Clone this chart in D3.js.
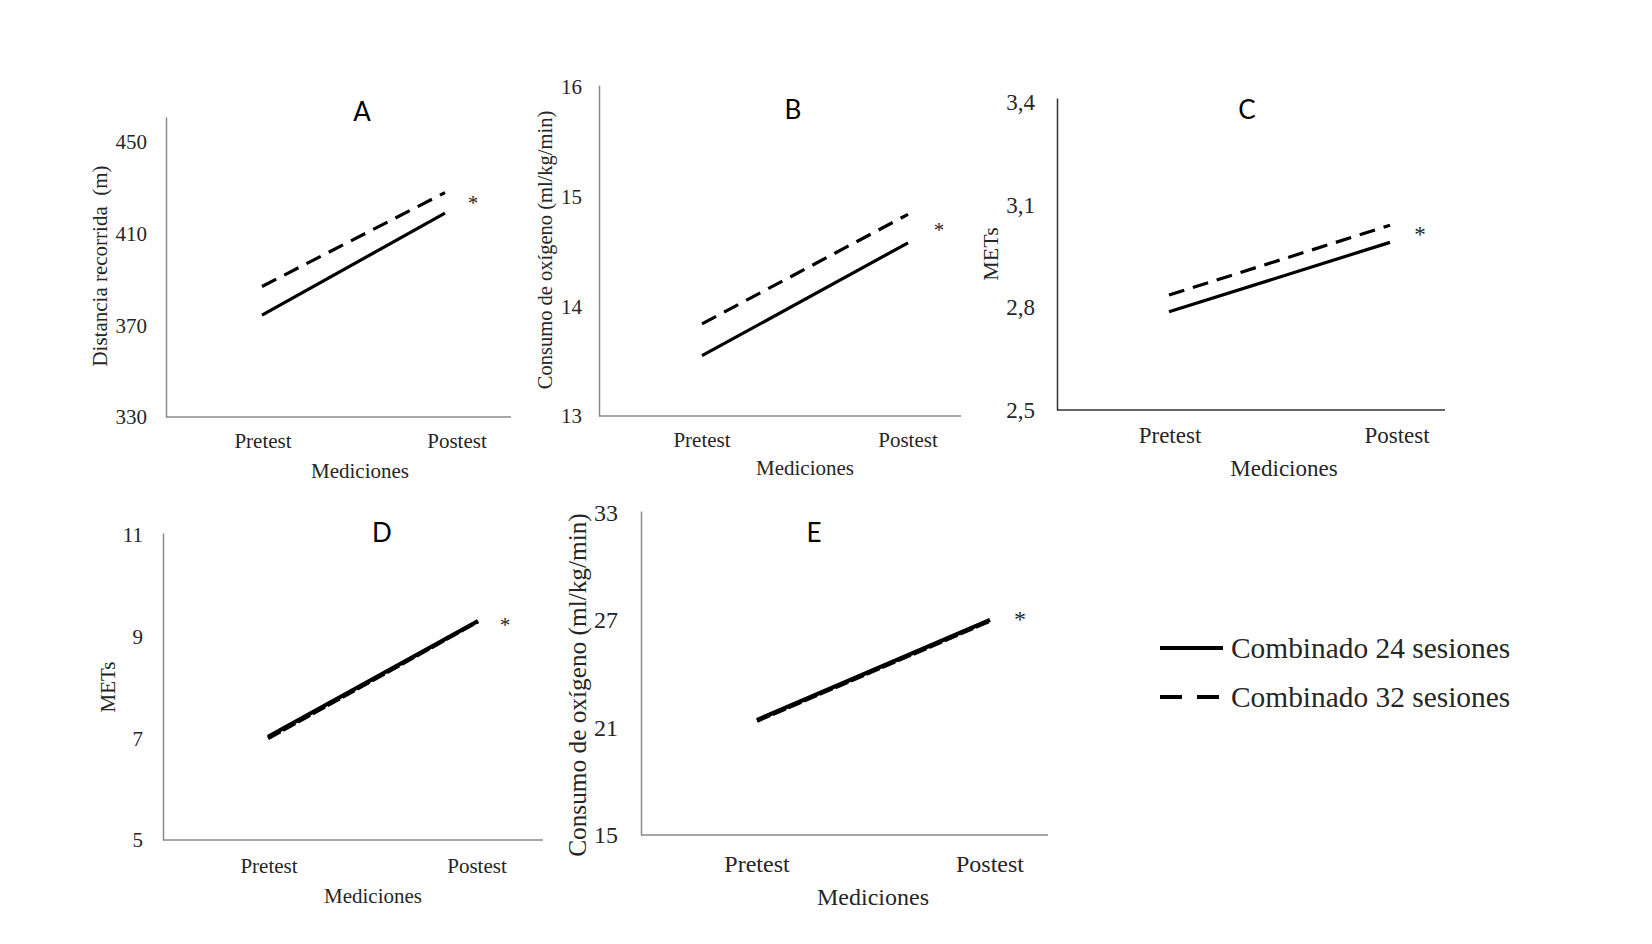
<!DOCTYPE html>
<html>
<head>
<meta charset="utf-8">
<script src="https://cdn.jsdelivr.net/npm/d3@7"></script>
<style>
  html, body { margin: 0; padding: 0; background: #fff; }
  svg text { font-family: "Liberation Serif", "Times New Roman", serif; fill: #262626; }
  .title { font-family: Lato, "Open Sans", sans-serif !important; fill: #000 !important; }
</style>
</head>
<body>
<svg id="chart" width="1652" height="944"></svg>
<script>
// ---------- data ----------
const categories = ["Pretest", "Postest"];
const panelTitles = ["A", "B", "C", "D", "E"];
const seriesNames = ["Combinado 24 sesiones", "Combinado 32 sesiones"];
const xAxisTitle = "Mediciones";
const yAxisTitles = [
  "Distancia recorrida  (m)",
  "Consumo de oxígeno (ml/kg/min)",
  "METs",
  "METs",
  "Consumo de oxígeno (ml/kg/min)"
];
// series values (Pretest, Postest)
const distA24 = [374.5, 419];
const distA32 = [387, 428];
const vo2B24 = [13.55, 14.58];
const vo2B32 = [13.84, 14.84];
const metsC24 = [2.787, 2.99];
const metsC32 = [2.836, 3.04];
const metsD24 = [7.03, 9.31];
const metsD32 = [7.0, 9.30];
const vo2E24 = [21.43, 27.02];
const vo2E32 = [21.38, 26.96];
// tick values
const ticksA = [330, 370, 410, 450];
const ticksB = [13, 14, 15, 16];
const ticksC = [2.5, 2.8, 3.1, 3.4];
const ticksD = [5, 7, 9, 11];
const ticksE = [15, 21, 27, 33];
const significance = ["*", "*", "*", "*", "*"];

// ---------- layout (positions/styles only) ----------
const layout = [
  {axX:166, top:117, bot:417, right:511, yMax:461,   px:[262,445], lx:[263,457], lbY:448, mx:360, mY:478, ast:[473,210], tt:[362,121], yl:[100,266], fs:21, ylfs:21, pad:19, axCol:"#8a8a8a", sw:3.2},
  {axX:599, top:85,  bot:416, right:961, yMax:16.02, px:[702,908], lx:[702,908], lbY:447, mx:805, mY:475, ast:[939,237], tt:[793,119], yl:[545,250], fs:21, ylfs:20.5, pad:17, axCol:"#8a8a8a", sw:3.2},
  {axX:1057,top:98,  bot:410, right:1445,yMax:3.412, px:[1169,1390],lx:[1170,1397],lbY:443,mx:1284,mY:476, ast:[1420,242],tt:[1247,119],yl:[990,254], fs:23, ylfs:22, pad:22, axCol:"#333", sw:3.2},
  {axX:163, top:533, bot:840, right:543, yMax:11.04, px:[268,478], lx:[269,477], lbY:873, mx:373, mY:903, ast:[505,632], tt:[382,542], yl:[108,687], fs:21, ylfs:21, pad:20, axCol:"#8a8a8a", sw:4},
  {axX:641, top:511, bot:835, right:1048,yMax:33.1,  px:[757,990], lx:[757,990], lbY:872, mx:873, mY:905, ast:[1020,627],tt:[814,542], yl:[577,685], fs:24, ylfs:25.3, pad:23, axCol:"#8a8a8a", sw:4}
];

const panels = [
  {s24: distA24, s32: distA32, ticks: ticksA, yMin: 330, fmt: d3.format("d")},
  {s24: vo2B24,  s32: vo2B32,  ticks: ticksB, yMin: 13,  fmt: d3.format("d")},
  {s24: metsC24, s32: metsC32, ticks: ticksC, yMin: 2.5, fmt: d => d3.format(".1f")(d).replace(".", ",")},
  {s24: metsD24, s32: metsD32, ticks: ticksD, yMin: 5,   fmt: d3.format("d")},
  {s24: vo2E24,  s32: vo2E32,  ticks: ticksE, yMin: 15,  fmt: d3.format("d")}
];

const svg = d3.select("#chart");

panels.forEach((p, i) => {
  const L = layout[i];
  const g = svg.append("g");
  const y = d3.scaleLinear().domain([p.yMin, L.yMax]).range([L.bot, L.top]);
  const x = d3.scalePoint().domain(categories).range(L.px);
  const xl = d3.scalePoint().domain(categories).range(L.lx);

  // y axis
  const ya = g.append("g").attr("transform", `translate(${L.axX},0)`)
    .call(d3.axisLeft(y).tickValues(p.ticks).tickFormat(p.fmt).tickSize(0).tickPadding(L.pad));
  ya.select(".domain").attr("stroke", L.axCol).attr("stroke-width", 1.5);
  ya.selectAll("text").style("font-size", L.fs + "px")
    .style("font-family", '"Liberation Serif", serif').attr("fill", "#262626");

  // x axis line
  g.append("line").attr("x1", L.axX).attr("x2", L.right)
    .attr("y1", L.bot).attr("y2", L.bot)
    .attr("stroke", L.axCol).attr("stroke-width", 1.5);

  // category labels
  g.selectAll(".cat").data(categories).join("text")
    .attr("x", d => xl(d)).attr("y", L.lbY)
    .attr("text-anchor", "middle").style("font-size", L.fs + "px").text(d => d);

  // x axis title
  g.append("text").attr("x", L.mx).attr("y", L.mY).attr("text-anchor", "middle")
    .style("font-size", L.fs + "px").text(xAxisTitle);

  // y axis title
  g.append("text").attr("transform", `translate(${L.yl[0]},${L.yl[1]}) rotate(-90)`)
    .attr("text-anchor", "middle").attr("dy", "0.35em")
    .style("font-size", L.ylfs + "px").style("white-space", "pre").text(yAxisTitles[i]);

  // lines
  const line = d3.line().x((d, k) => x(categories[k])).y(d => y(d));
  g.append("path").datum(p.s24).attr("d", line)
    .attr("fill", "none").attr("stroke", "#000").attr("stroke-width", L.sw);
  g.append("path").datum(p.s32).attr("d", line)
    .attr("fill", "none").attr("stroke", "#000").attr("stroke-width", L.sw)
    .attr("stroke-dasharray", i >= 3 ? "14,3" : "16,9");

  // significance marker
  g.append("text").attr("x", L.ast[0]).attr("y", L.ast[1]).attr("text-anchor", "middle")
    .style("font-size", L.fs + "px").text(significance[i]);

  // panel title
  g.append("text").attr("class", "title").attr("x", L.tt[0]).attr("y", L.tt[1])
    .attr("text-anchor", "middle").style("font-size", "26px").text(panelTitles[i]);
});

// ---------- legend ----------
const leg = svg.append("g");
const legItems = [
  {name: seriesNames[0], dash: null, y: 648},
  {name: seriesNames[1], dash: "22,15", y: 697}
];
legItems.forEach(it => {
  leg.append("line").attr("x1", 1160).attr("x2", 1223).attr("y1", it.y).attr("y2", it.y)
    .attr("stroke", "#000").attr("stroke-width", 4)
    .attr("stroke-dasharray", it.dash);
  leg.append("text").attr("x", 1231).attr("y", it.y + 10)
    .style("font-size", "29.4px").text(it.name);
});
</script>
</body>
</html>
